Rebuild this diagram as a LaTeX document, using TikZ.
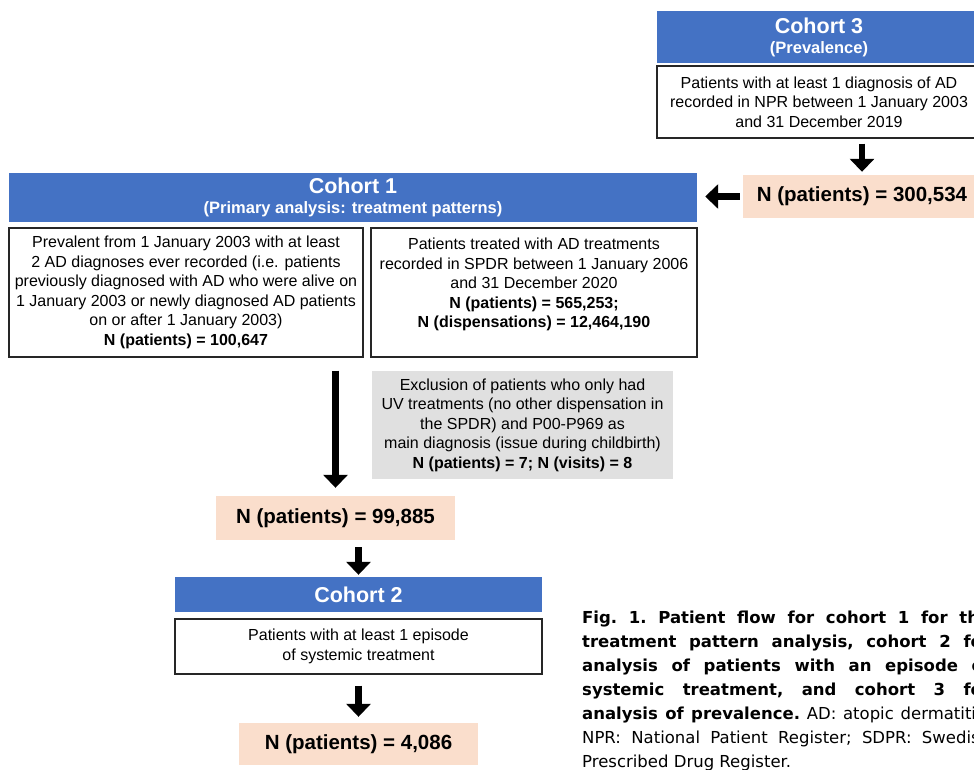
\documentclass[tikz,border=0pt]{standalone}
\usepackage{fontspec}
\setmainfont{Liberation Sans}
\newfontfamily\capfont{DejaVu Sans}
\usetikzlibrary{arrows.meta}
\definecolor{cohortblue}{RGB}{68,114,196}
\definecolor{countpeach}{RGB}{250,222,204}
\definecolor{notegrey}{RGB}{224,224,224}

\begin{document}
\begin{tikzpicture}[x=1pt,y=-1pt,
    headbox/.style={fill=cohortblue, text=white, align=center, inner sep=0pt,
      font=\bfseries\fontsize{16.5}{20}\selectfont},
    whitebox/.style={draw=black!85, line width=1.2pt, fill=white, align=center, inner sep=0pt,
      font=\fontsize{16}{19.5}\selectfont},
    countbox/.style={fill=countpeach, inner sep=0pt,
      font=\bfseries\fontsize{20.5}{24}\selectfont},
    notebox/.style={fill=notegrey, align=center, inner sep=0pt,
      font=\fontsize{16}{19.5}\selectfont},
    flowarrow/.style={line width=6.5pt, -{Triangle[width=24pt,length=13pt]}}
  ]
  \useasboundingbox (0,0) rectangle (974,769);
  \clip (0,0) rectangle (974,769);

  % cohort 3
  \node[headbox, minimum width=324pt, minimum height=52pt] (c3head) at (819,37)
    {{\fontsize{21.5}{24}\selectfont Cohort 3}\\(Prevalence)};
  \node[whitebox, minimum width=324pt, minimum height=72pt] (c3box) at (819,102)
    {Patients with at least 1 diagnosis of AD\\recorded in NPR between 1 January 2003\\and 31 December 2019};
  \node[countbox, minimum width=238pt, minimum height=43pt] (n3) at (862,196.5)
    {N (patients) = 300,534};

  % cohort 1
  \node[headbox, minimum width=688pt, minimum height=49pt] (c1head) at (353,197.5)
    {{\fontsize{21.5}{24}\selectfont Cohort 1}\\(Primary analysis: treatment patterns)};
  \node[whitebox, minimum width=354pt, minimum height=129pt] (c1left) at (186,292.5)
    {Prevalent from 1 January 2003 with at least\\2 AD diagnoses ever recorded (i.e. patients\\previously diagnosed with AD who were alive on\\1 January 2003 or newly diagnosed AD patients\\on or after 1 January 2003)\\\textbf{N (patients) = 100,647}};
  \node[whitebox, minimum width=326pt, minimum height=129pt] (c1right) at (534,292.5)
    {Patients treated with AD treatments\\recorded in SPDR between 1 January 2006\\and 31 December 2020\\\textbf{N (patients) = 565,253;}\\\textbf{N (dispensations) = 12,464,190}\\~};
  \node[notebox, minimum width=301pt, minimum height=108pt] (excl) at (522.5,425)
    {Exclusion of patients who only had\\UV treatments (no other dispensation in\\the SPDR) and P00-P969 as\\main diagnosis (issue during childbirth)\\\textbf{N (patients) = 7; N (visits) = 8}};
  \node[countbox, minimum width=239pt, minimum height=44pt] (n1) at (335.5,518)
    {N (patients) = 99,885};

  % cohort 2
  \node[headbox, minimum width=367pt, minimum height=35pt] (c2head) at (358.5,594.5)
    {\fontsize{21.5}{24}\selectfont Cohort 2};
  \node[whitebox, minimum width=367pt, minimum height=55pt] (c2box) at (358.5,646.5)
    {Patients with at least 1 episode\\of systemic treatment};
  \node[countbox, minimum width=239pt, minimum height=42pt] (n2) at (358.5,744)
    {N (patients) = 4,086};

  % arrows
  \draw[flowarrow, shorten <=5pt, shorten >=3pt] (c3box.south -| n3.north) -- (n3.north);
  \draw[flowarrow, shorten <=3pt, shorten >=8pt] (n3.west) -- (n3.west -| c1head.east);
  \draw[flowarrow, shorten <=13pt, shorten >=8pt] (c1left.south -| n1.north) -- (n1.north);
  \draw[flowarrow, shorten <=7pt, shorten >=2pt] (n1.south -| c2head.north) -- (c2head.north);
  \draw[flowarrow, shorten <=11pt, shorten >=6pt] (c2box.south) -- (n2.north);

  % caption
  \node[anchor=north west, inner sep=0pt, text width=408pt, align=justify,
    font=\capfont\fontsize{16.5}{24}\selectfont\frenchspacing] (caption) at (582,611)
    {\textbf{Fig. 1. Patient flow for cohort 1 for the\linebreak
     treatment pattern analysis, cohort 2 for\linebreak
     analysis of patients with an episode of\linebreak
     systemic treatment, and cohort 3 for\linebreak
     analysis of prevalence.} AD: atopic dermatitis;\linebreak
     NPR: National Patient Register; SDPR: Swedish\linebreak
     Prescribed Drug Register.};
\end{tikzpicture}
\end{document}
